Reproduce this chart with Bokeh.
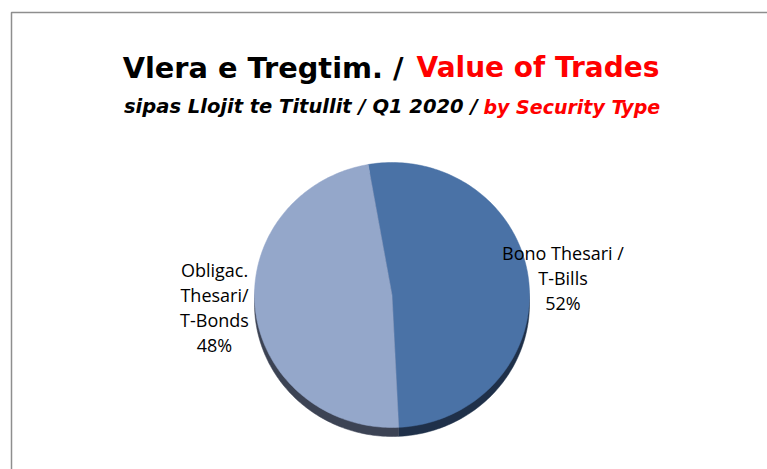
import numpy as np
from bokeh.plotting import figure
from bokeh.models import Range1d
from bokeh.embed import file_html
from bokeh.resources import INLINE
from bokeh.core.properties import value

# ---- data ----
categories = ["Bono Thesari /\nT-Bills", "Obligac.\nThesari/\nT-Bonds"]
shares = [52, 48]
title_black = "Vlera e Tregtim. /"
title_red = "Value of Trades"
sub_black = "sipas Llojit te Titullit / Q1 2020 /"
sub_red = "by Security Type"

# ---- styles / layout ----
surface_colors = ["#4A72A6", "#94A7CA"]
side_colors = ["#1F3049", "#3C4354"]
label_anchor = [(562.5, 252.0), (214.0, 269.0)]   # centre x, first baseline
line_step = 25.3

W, H = 767, 469
p = figure(width=W, height=H, x_range=Range1d(0, W), y_range=Range1d(H, 0),
           output_backend="svg", toolbar_location=None, min_border=0,
           x_axis_location=None, y_axis_location=None)
p.grid.visible = False
p.outline_line_color = None
p.background_fill_color = "white"
p.border_fill_color = "white"

# chart border (extends beyond the visible area, as in the crop)
p.line([11, 11, 800], [500, 12, 12], line_color="#8E8E8E", line_width=1.5)

# ---- pie (tilted, with side band) ----
cx, cy, rx, ry, depth = 391.5, 294.5, 137.5, 132.5, 9.0
start = -10.0
total = float(sum(shares))
angles = []
a = start
for s in shares:
    span = 360.0 * s / total
    angles.append((a, a + span))
    a += span

def wedge(t0, t1, dy):
    t = np.radians(np.linspace(t0, t1, 160))
    xs = [cx] + list(cx + rx * np.sin(t)) + [cx]
    ys = [cy + dy] + list(cy + dy - ry * np.cos(t)) + [cy + dy]
    return xs, ys

side_xs, side_ys, top_xs, top_ys = [], [], [], []
for (t0, t1) in angles:
    x, y = wedge(t0, t1, depth)
    side_xs.append(x); side_ys.append(y)
    x, y = wedge(t0, t1, 0.0)
    top_xs.append(x); top_ys.append(y)

p.patches(side_xs, side_ys, fill_color=side_colors, line_color=side_colors, line_width=0.5)
p.patches(top_xs, top_ys, fill_color=surface_colors, line_color=surface_colors, line_width=0.5)

# ---- labels ----
lx, ly, lt = [], [], []
for cat, share, (ax, ay) in zip(categories, shares, label_anchor):
    lines = cat.split("\n") + [f"{share}%"]
    for i, ln in enumerate(lines):
        lx.append(ax); ly.append(ay + i * line_step); lt.append(ln)
p.text(x=lx, y=ly, text=lt, text_font=value("Open Sans"), text_font_size="18px",
       text_align="center", text_baseline="alphabetic", text_color="#000000")

# ---- titles ----
p.text(x=[403], y=[67], text=[title_black], text_font=value("DejaVu Sans"),
       text_font_style="bold", text_font_size="28.8px", text_align="right",
       text_baseline="alphabetic", text_color="#000000")
p.text(x=[416], y=[67], text=[title_red], text_font=value("DejaVu Sans"),
       text_font_style="bold", text_font_size="28px", text_align="left",
       text_baseline="alphabetic", text_color="#FF0000")
p.text(x=[477], y=[106], text=[sub_black], text_font=value("DejaVu Sans"),
       text_font_style="bold italic", text_font_size="19.5px", text_align="right",
       text_baseline="alphabetic", text_color="#000000")
p.text(x=[483], y=[106], text=[sub_red], text_font=value("DejaVu Sans"),
       text_font_style="bold italic", text_font_size="19px", text_align="left",
       text_baseline="alphabetic", text_color="#FF0000")

open("out.html", "w").write(file_html(p, INLINE))
